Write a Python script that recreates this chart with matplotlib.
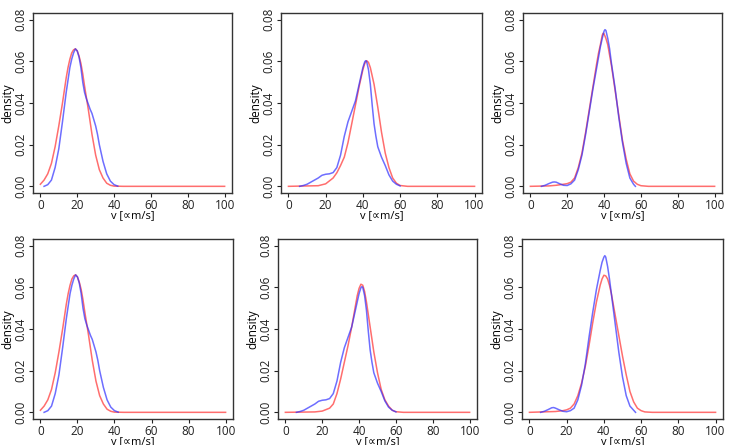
import matplotlib
matplotlib.use("Agg")
import matplotlib.pyplot as plt

plt.rcParams['font.family'] = ['Open Sans', 'DejaVu Sans']

# ---- data (x in m/s, y = density) ----
# left column (panels 1 and 4 look the same)
p1_red_x = [0, 2, 4, 6, 8, 10, 12, 14, 15, 16, 17, 18, 19, 20, 21, 22, 23, 24, 26, 28, 30, 32, 34,
            36, 38, 40, 45, 100]
p1_red_y = [0.001, 0.003, 0.006, 0.011, 0.019, 0.029, 0.040, 0.052, 0.057, 0.061, 0.064, 0.0655,
            0.066, 0.065, 0.0625, 0.059, 0.054, 0.048, 0.037, 0.025, 0.015, 0.008, 0.004, 0.0015,
            0.0005, 0.0001, 0.0, 0.0]
p1_blue_x = [2, 4, 6, 8, 10, 12, 14, 15, 16, 17, 18, 19, 20, 21, 22, 23, 24, 25, 26, 27, 28, 29,
             30, 31, 32, 34, 36, 38, 40, 42]
p1_blue_y = [0.0, 0.0008, 0.003, 0.009, 0.018, 0.031, 0.045, 0.051, 0.057, 0.061, 0.064, 0.066,
             0.065, 0.062, 0.057, 0.050, 0.045, 0.042, 0.0395, 0.037, 0.035, 0.032, 0.029, 0.025,
             0.020, 0.012, 0.006, 0.0025, 0.0008, 0.0001]

# top middle
p2_red_x = [0, 16, 20, 24, 26, 28, 30, 32, 34, 36, 38, 40, 41, 42, 43, 44, 45, 46, 48, 50, 52, 54,
            56, 58, 60, 64, 100]
p2_red_y = [0.0, 0.0003, 0.0012, 0.004, 0.0065, 0.010, 0.014, 0.021, 0.030, 0.039, 0.048, 0.056,
            0.059, 0.0603, 0.0595, 0.057, 0.053, 0.049, 0.038, 0.026, 0.016, 0.009, 0.004, 0.0015,
            0.0004, 0.0, 0.0]
p2_blue_x = [6, 8, 10, 12, 14, 16, 18, 20, 22, 24, 26, 28, 30, 32, 34, 36, 38, 39, 40, 41, 41.5,
             42, 43, 44, 45, 46, 47, 48, 50, 52, 54, 56, 58, 60]
p2_blue_y = [0.0, 0.0004, 0.001, 0.002, 0.003, 0.004, 0.0053, 0.0058, 0.006, 0.0066, 0.009, 0.015,
             0.024, 0.031, 0.036, 0.041, 0.049, 0.053, 0.057, 0.0598, 0.0603, 0.060, 0.056, 0.049,
             0.039, 0.030, 0.024, 0.019, 0.014, 0.010, 0.0055, 0.0025, 0.001, 0.0002]

# bottom middle (blue is the same sample as top middle)
p5_red_x = [0, 16, 20, 24, 26, 28, 30, 32, 34, 36, 38, 39, 40, 41, 42, 43, 44, 46, 48, 50, 52, 54,
            56, 58, 60, 64, 100]
p5_red_y = [0.0, 0.0002, 0.0006, 0.002, 0.004, 0.009, 0.016, 0.024, 0.032, 0.041, 0.051, 0.056,
            0.0595, 0.0615, 0.061, 0.058, 0.053, 0.041, 0.029, 0.019, 0.011, 0.006, 0.003, 0.001,
            0.0003, 0.0, 0.0]

# top right
p3_red_x = [0, 10, 14, 18, 20, 22, 24, 26, 28, 30, 32, 34, 36, 37, 38, 39, 39.5, 40, 41, 42, 43,
            44, 46, 48, 50, 52, 54, 56, 58, 60, 64, 100]
p3_red_y = [0.0, 0.0002, 0.0005, 0.001, 0.0013, 0.002, 0.004, 0.009, 0.016, 0.026, 0.037, 0.048,
            0.059, 0.064, 0.068, 0.0725, 0.0735, 0.0732, 0.071, 0.068, 0.063, 0.058, 0.046, 0.034,
            0.022, 0.013, 0.006, 0.0025, 0.001, 0.0003, 0.0, 0.0]
p3_blue_x = [6, 8, 10, 12, 13, 14, 16, 18, 20, 22, 24, 26, 28, 30, 32, 34, 36, 38, 39, 40, 40.5,
             41, 42, 43, 44, 46, 48, 50, 52, 54, 56, 57]
p3_blue_y = [0.0, 0.0005, 0.0013, 0.002, 0.0021, 0.002, 0.0012, 0.0005, 0.0004, 0.0012, 0.003,
             0.008, 0.015, 0.025, 0.036, 0.047, 0.057, 0.067, 0.071, 0.0745, 0.0752, 0.0748, 0.071,
             0.066, 0.059, 0.047, 0.033, 0.021, 0.011, 0.004, 0.001, 0.0]

# bottom right
p6_red_x = [0, 14, 18, 20, 22, 24, 26, 28, 30, 32, 34, 36, 38, 39, 40, 41, 42, 43, 44, 46, 48, 50,
            52, 54, 56, 58, 60, 62, 66, 100]
p6_red_y = [0.0, 0.0004, 0.0008, 0.0012, 0.002, 0.004, 0.008, 0.014, 0.022, 0.032, 0.043, 0.053,
            0.061, 0.064, 0.0658, 0.0655, 0.064, 0.061, 0.057, 0.047, 0.037, 0.027, 0.018, 0.010,
            0.005, 0.002, 0.0008, 0.0002, 0.0, 0.0]
p6_blue_x = [6, 8, 10, 12, 13, 14, 16, 18, 20, 22, 24, 26, 28, 30, 32, 34, 36, 38, 39, 40, 40.5,
             41, 42, 43, 44, 46, 48, 50, 52, 54, 56, 57]
p6_blue_y = [0.0, 0.0005, 0.0013, 0.0022, 0.0023, 0.002, 0.0012, 0.0005, 0.0003, 0.0008, 0.002,
             0.006, 0.013, 0.023, 0.036, 0.048, 0.059, 0.068, 0.072, 0.0745, 0.0752, 0.0745, 0.070,
             0.064, 0.057, 0.043, 0.029, 0.017, 0.008, 0.003, 0.001, 0.0]

panels = [
    (p1_red_x, p1_red_y, p1_blue_x, p1_blue_y),
    (p2_red_x, p2_red_y, p2_blue_x, p2_blue_y),
    (p3_red_x, p3_red_y, p3_blue_x, p3_blue_y),
    (p1_red_x, p1_red_y, p1_blue_x, p1_blue_y),
    (p5_red_x, p5_red_y, p2_blue_x, p2_blue_y),
    (p6_red_x, p6_red_y, p6_blue_x, p6_blue_y),
]

xticks = [0, 20, 40, 60, 80, 100]
yticks = [0.0, 0.02, 0.04, 0.06, 0.08]

W, H = 730, 445
# axes boxes in pixels: left, right, top, bottom
boxes = [(33, 232, 13, 193), (281, 482, 13, 193), (523, 722, 13, 193),
         (33, 233, 239, 419), (278, 477, 239, 419), (522, 723, 239, 419)]

fig = plt.figure(figsize=(W / 100, H / 100), dpi=100)

for (rx, ry, bx, by), (l, r, t, b) in zip(panels, boxes):
    ax = fig.add_axes([l / W, 1 - b / H, (r - l) / W, (b - t) / H])
    ax.plot(rx, ry, color="#ff3030", alpha=0.7, lw=1.1)
    ax.plot(bx, by, color="#3030ff", alpha=0.7, lw=1.1)
    ax.set_xlim(-4, 104)
    ax.set_ylim(-0.0032, 0.0832)
    ax.set_xticks(xticks)
    ax.set_yticks(yticks)
    ax.set_yticklabels([f"{v:.2f}" for v in yticks])
    ax.tick_params(labelsize=8.5, length=3, width=0.8, pad=1, colors="#222222")
    plt.setp(ax.get_yticklabels(), rotation=90, va="center")
    for s in ax.spines.values():
        s.set_color("#333333")
        s.set_linewidth(1.0)
    ax.set_xlabel("v [\u221dm/s]", fontsize=8, labelpad=-1)
    ax.set_ylabel("density", fontsize=8.5)
    ax.yaxis.set_label_coords(-0.095, 0.5)

fig.savefig("out.png", dpi=100)
